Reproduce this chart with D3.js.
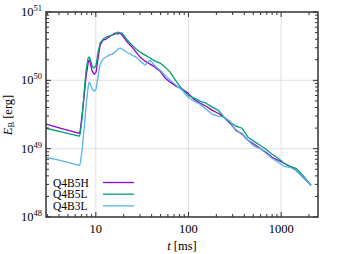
<!DOCTYPE html>
<html>
<head>
<meta charset="utf-8">
<script src="https://cdn.jsdelivr.net/npm/d3@7"></script>
<style>
  body { margin: 0; background: #fff; }
  text { font-family: "Liberation Serif", "DejaVu Serif", serif; fill: #000; }
</style>
</head>
<body>
<div id="chart"></div>
<script>
// time [ms]
const tMs = [2.91, 4.12, 6.60, 6.77, 7.11, 7.48, 7.86, 8.26, 8.47, 8.68, 9.12, 9.59,
  10.07, 10.59, 11.13, 11.99, 12.92, 13.92, 14.99, 16.15, 17.40, 18.29, 19.22, 20.71,
  22.31, 24.64, 27.21, 30.06, 34.02, 38.53, 43.62, 49.39, 55.93, 63.32, 73.48, 85.31,
  99.0, 114.9, 133.4, 154.8, 179.7, 208.6, 242.1, 281.1, 326.2, 378.6, 439.4, 510.3,
  592.3, 687.4, 797.8, 926.2, 1075, 1247, 1448, 1681, 1903, 2102];

// E_B [erg]
const eQ4B5H = [2.28e49, 1.99e49, 1.68e49, 1.80e49, 3.09e49, 5.87e49, 1.15e50, 1.79e50, 1.98e50, 1.85e50, 1.36e50, 1.23e50,
  1.32e50, 2.12e50, 3.28e50, 3.89e50, 4.02e50, 4.30e50, 4.60e50, 4.92e50, 4.76e50, 4.92e50, 4.60e50, 4.02e50,
  3.51e50, 3.07e50, 2.59e50, 2.19e50, 1.91e50, 1.73e50, 1.56e50, 1.36e50, 1.08e50, 9.41e49, 8.22e49, 7.43e49,
  6.49e49, 5.30e49, 4.63e49, 4.18e49, 3.66e49, 3.30e49, 2.89e49, 2.36e49, 1.86e49, 1.63e49, 1.33e49, 1.16e49,
  1.01e49, 8.85e48, 7.48e48, 6.76e48, 6.11e48, 5.52e48, 4.82e48, 3.94e48, 3.33e48, 2.91e48];

const eQ4B5L = [1.99e49, 1.77e49, 1.52e49, 1.63e49, 2.79e49, 6.71e49, 1.41e50, 2.12e50, 2.19e50, 2.05e50, 1.62e50, 1.51e50,
  1.67e50, 2.59e50, 3.51e50, 4.02e50, 4.30e50, 4.45e50, 4.60e50, 4.76e50, 5.09e50, 4.92e50, 4.92e50, 4.30e50,
  3.76e50, 3.28e50, 2.87e50, 2.59e50, 2.34e50, 2.12e50, 1.91e50, 1.79e50, 1.56e50, 1.32e50, 9.73e49, 7.43e49,
  6.07e49, 5.48e49, 4.95e49, 4.63e49, 4.05e49, 3.66e49, 2.89e49, 2.44e49, 2.13e49, 1.99e49, 1.47e49, 1.28e49,
  1.12e49, 9.80e48, 8.28e48, 7.23e48, 6.11e48, 5.52e48, 5.16e48, 4.21e48, 3.44e48, 2.91e48];

const eQ4B3L = [7.48e48, 6.76e48, 5.71e48, 5.91e48, 9.47e48, 1.99e49, 4.33e49, 7.95e49, 9.41e49, 9.10e49, 7.43e49, 6.94e49,
  7.43e49, 1.15e50, 1.73e50, 2.05e50, 2.19e50, 2.34e50, 2.42e50, 2.59e50, 2.87e50, 2.97e50, 2.87e50, 2.68e50,
  2.51e50, 2.34e50, 2.19e50, 1.91e50, 1.67e50, 1.98e50, 1.62e50, 1.41e50, 1.19e50, 1.01e50, 8.51e49, 7.18e49,
  5.67e49, 4.95e49, 4.48e49, 3.78e49, 3.19e49, 2.99e49, 2.89e49, 2.52e49, 1.80e49, 1.68e49, 1.33e49, 1.08e49,
  1.01e49, 8.56e48, 7.23e48, 6.32e48, 5.52e48, 5.34e48, 4.82e48, 3.94e48, 3.33e48, 2.91e48];

const seriesNames = ["Q4B5H", "Q4B5L", "Q4B3L"];
const seriesColors = ["#9400d3", "#009e73", "#56b4e9"];
const xTickLabels = [10, 100, 1000];
const yTickExps = [48, 49, 50, 51];

const width = 338, height = 254;
const margin = { top: 12, right: 20, bottom: 37, left: 46 };

const svg = d3.select("#chart").append("svg")
  .attr("width", width)
  .attr("height", height);

const x = d3.scaleLog()
  .domain([2.9, 2500])
  .range([margin.left, width - margin.right]);

const y = d3.scaleLog()
  .domain([1e48, 1e51])
  .range([height - margin.bottom, margin.top]);

const x0 = margin.left, x1 = width - margin.right;
const y0 = height - margin.bottom, y1 = margin.top;

// grid
const grid = svg.append("g").attr("stroke", "#d4d4d4").attr("stroke-width", 0.7);
xTickLabels.forEach(v => {
  grid.append("line").attr("x1", x(v)).attr("x2", x(v)).attr("y1", y0).attr("y2", y1);
});
yTickExps.slice(1, -1).forEach(e => {
  grid.append("line").attr("x1", x0).attr("x2", x1).attr("y1", y(Math.pow(10, e))).attr("y2", y(Math.pow(10, e)));
});

// lines
const line = d3.line()
  .x((d, i) => x(tMs[i]))
  .y(d => y(d));

const allSeries = [eQ4B5H, eQ4B5L, eQ4B3L];
allSeries.forEach((s, k) => {
  svg.append("path")
    .datum(s)
    .attr("fill", "none")
    .attr("stroke", seriesColors[k])
    .attr("stroke-width", 1.3)
    .attr("stroke-linejoin", "round")
    .attr("d", line);
});

// ticks (inward, on all four sides)
const xMinor = x.ticks().filter(v => xTickLabels.indexOf(v) < 0);
const yMajor = yTickExps.map(e => Math.pow(10, e));
const yMinor = y.ticks().filter(v => yMajor.indexOf(v) < 0);

const ticks = svg.append("g").attr("stroke", "#333").attr("stroke-width", 1);
xTickLabels.forEach(v => {
  ticks.append("line").attr("x1", x(v)).attr("x2", x(v)).attr("y1", y0).attr("y2", y0 - 5);
  ticks.append("line").attr("x1", x(v)).attr("x2", x(v)).attr("y1", y1).attr("y2", y1 + 5);
});
xMinor.forEach(v => {
  ticks.append("line").attr("x1", x(v)).attr("x2", x(v)).attr("y1", y0).attr("y2", y0 - 3);
  ticks.append("line").attr("x1", x(v)).attr("x2", x(v)).attr("y1", y1).attr("y2", y1 + 3);
});
yMajor.forEach(v => {
  ticks.append("line").attr("x1", x0).attr("x2", x0 + 5).attr("y1", y(v)).attr("y2", y(v));
  ticks.append("line").attr("x1", x1).attr("x2", x1 - 5).attr("y1", y(v)).attr("y2", y(v));
});
yMinor.forEach(v => {
  ticks.append("line").attr("x1", x0).attr("x2", x0 + 3).attr("y1", y(v)).attr("y2", y(v));
  ticks.append("line").attr("x1", x1).attr("x2", x1 - 3).attr("y1", y(v)).attr("y2", y(v));
});

// frame
svg.append("rect")
  .attr("x", x0).attr("y", y1)
  .attr("width", x1 - x0).attr("height", y0 - y1)
  .attr("fill", "none")
  .attr("stroke", "#333")
  .attr("stroke-width", 1.5);

// x tick labels
xTickLabels.forEach(v => {
  svg.append("text")
    .attr("x", x(v)).attr("y", y0 + 16)
    .attr("text-anchor", "middle")
    .attr("font-size", 12.5)
    .text(v);
});

// y tick labels 10^n
yTickExps.forEach(e => {
  const t = svg.append("text")
    .attr("x", x0 - 4).attr("y", y(Math.pow(10, e)) + 4)
    .attr("text-anchor", "end")
    .attr("font-size", 12.5);
  t.append("tspan").text("10");
  t.append("tspan").attr("font-size", 8.5).attr("dy", -5).text(e);
});

// axis titles
const xt = svg.append("text")
  .attr("x", (x0 + x1) / 2).attr("y", height - 4)
  .attr("text-anchor", "middle")
  .attr("font-size", 12.5);
xt.append("tspan").attr("font-style", "italic").text("t");
xt.append("tspan").text(" [ms]");

const yt = svg.append("text")
  .attr("transform", "translate(12," + 115 + ") rotate(-90)")
  .attr("text-anchor", "middle")
  .attr("font-size", 12.5);
yt.append("tspan").attr("font-style", "italic").text("E");
yt.append("tspan").attr("font-size", 8.5).attr("dy", 2).text("B");
yt.append("tspan").attr("dy", -2).text(" [erg]");

// legend
const legend = svg.append("g");
seriesNames.forEach((name, k) => {
  const ly = 182.5 + k * 11.7;
  legend.append("text")
    .attr("x", 53).attr("y", ly + 4)
    .attr("font-size", 11.5)
    .text(name);
  legend.append("line")
    .attr("x1", 103).attr("x2", 134)
    .attr("y1", ly).attr("y2", ly)
    .attr("stroke", seriesColors[k])
    .attr("stroke-width", 1.3);
});
</script>
</body>
</html>
